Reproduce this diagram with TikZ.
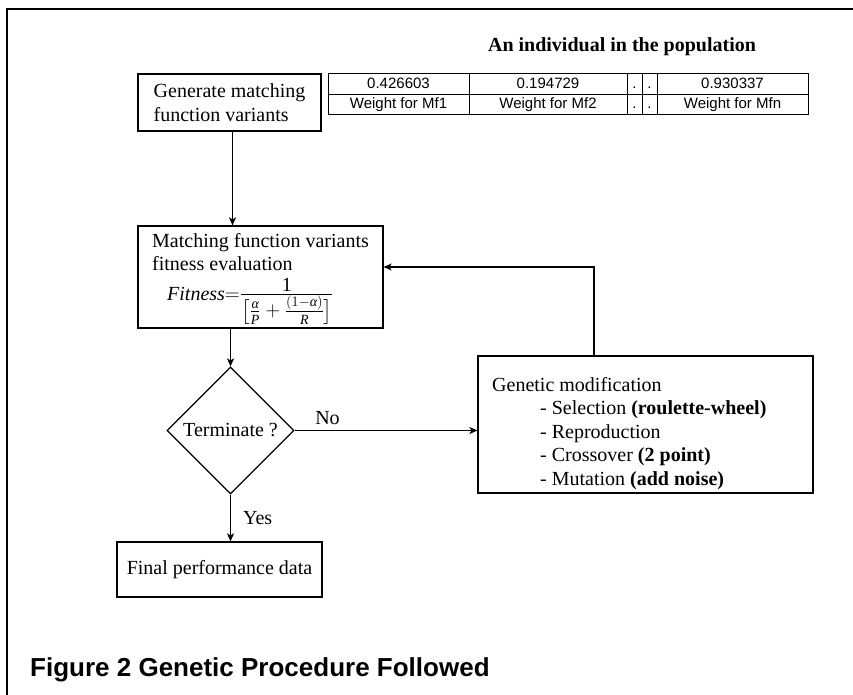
\documentclass[tikz,border=0pt]{standalone}
\usepackage{amsmath}
\usepackage{fontspec}
\setmainfont{Liberation Serif}
\newfontfamily\arialfam{Liberation Sans}
\usetikzlibrary{arrows.meta,shapes.geometric}
\newcommand{\itx}[1]{\text{\itshape #1}}
\begin{document}
\begin{tikzpicture}[x=1pt,y=-1pt,
  box/.style={draw,line width=1.2pt,inner sep=0pt},
  txt/.style={font=\fontsize{20}{23.5}\selectfont,inner sep=0pt,align=left},
  cell/.style={draw,line width=1pt,inner sep=0pt,minimum height=20.5pt,text height=11pt,text depth=3pt,font=\arialfam\fontsize{15}{15}\selectfont},
  arr/.style={line width=1.2pt,-{Stealth[length=8pt,width=7pt,inset=2pt]}},
  lbl/.style={font=\fontsize{20}{20}\selectfont,inner sep=0pt}]
\useasboundingbox (0,0) rectangle (853,695);
\draw[line width=1.3pt] (7,695) -- (7,9) -- (853,9);
% title and table
\node[font=\bfseries\fontsize{20}{20}\selectfont,inner sep=0pt,anchor=base] (title) at (622,52) {An individual in the population};
\node[cell,minimum width=141pt] (a1) at (398.5,84.25) {0.426603};
\node[cell,minimum width=158pt] (a2) at (548,84.25) {0.194729};
\node[cell,minimum width=15pt] (a3) at (634.5,84.25) {.};
\node[cell,minimum width=15pt] (a4) at (649.5,84.25) {.};
\node[cell,minimum width=151pt] (a5) at (732.5,84.25) {0.930337};
\node[cell,minimum width=141pt] (b1) at (398.5,104.75) {Weight for Mf1};
\node[cell,minimum width=158pt] (b2) at (548,104.75) {Weight for Mf2};
\node[cell,minimum width=15pt] (b3) at (634.5,104.75) {.};
\node[cell,minimum width=15pt] (b4) at (649.5,104.75) {.};
\node[cell,minimum width=151pt] (b5) at (732.5,104.75) {Weight for Mfn};
% flow boxes
\node[box,txt,minimum width=183pt,minimum height=57pt] (gen) at (229.5,102.5) {Generate matching\\function variants};
\node[box,minimum width=245pt,minimum height=102pt] (mfv) at (260.5,277) {};
\node[txt,anchor=north west] (mfvt) at (152,233) {Matching function variants\\fitness evaluation};
\node[txt,anchor=base west] (fit) at (167,300) {$\itx{Fitness}{=}\frac{\mbox{1}}{\mbox{$\bigl[\frac{\itx{α}}{\itx{P}}+\frac{(1-\itx{α})}{\itx{R}}\bigr]$}}$};
\node[diamond,draw,line width=1.2pt,minimum width=127pt,minimum height=127pt,txt,align=center] (term) at (230.5,430.5) {Terminate ?};
\node[box,minimum width=335pt,minimum height=137pt] (gm) at (645.5,424.5) {};
\node[txt,anchor=north west] (gmt) at (492,377) {Genetic modification\\
\hspace*{48pt}- Selection \textbf{(roulette-wheel)}\\
\hspace*{48pt}- Reproduction\\
\hspace*{48pt}- Crossover \textbf{(2 point)}\\
\hspace*{48pt}- Mutation \textbf{(add noise)}};
\node[box,txt,align=center,minimum width=205pt,minimum height=55pt] (fin) at (219.5,569.5) {Final performance data};
% caption
\node[anchor=base west,font=\arialfam\bfseries\fontsize{26}{26}\selectfont,inner sep=0pt] (cap) at (30,676) {Figure 2 Genetic Procedure Followed};
% connectors
\draw[arr] ([xshift=3pt]gen.south) -- ([xshift=3pt]gen.south |- mfv.north);
\draw[arr] (term.north |- mfv.south) -- (term.north);
\draw[arr] (term.east) -- (term.east -| gm.west) node[lbl,pos=0.18,above=5pt] (no) {No};
\draw[arr] ([xshift=-51.5pt]gm.north) |- ([yshift=10pt]mfv.east);
\draw[arr] (term.south) -- (term.south |- fin.north) node[lbl,midway,right=12pt] (yes) {Yes};
\end{tikzpicture}
\end{document}
